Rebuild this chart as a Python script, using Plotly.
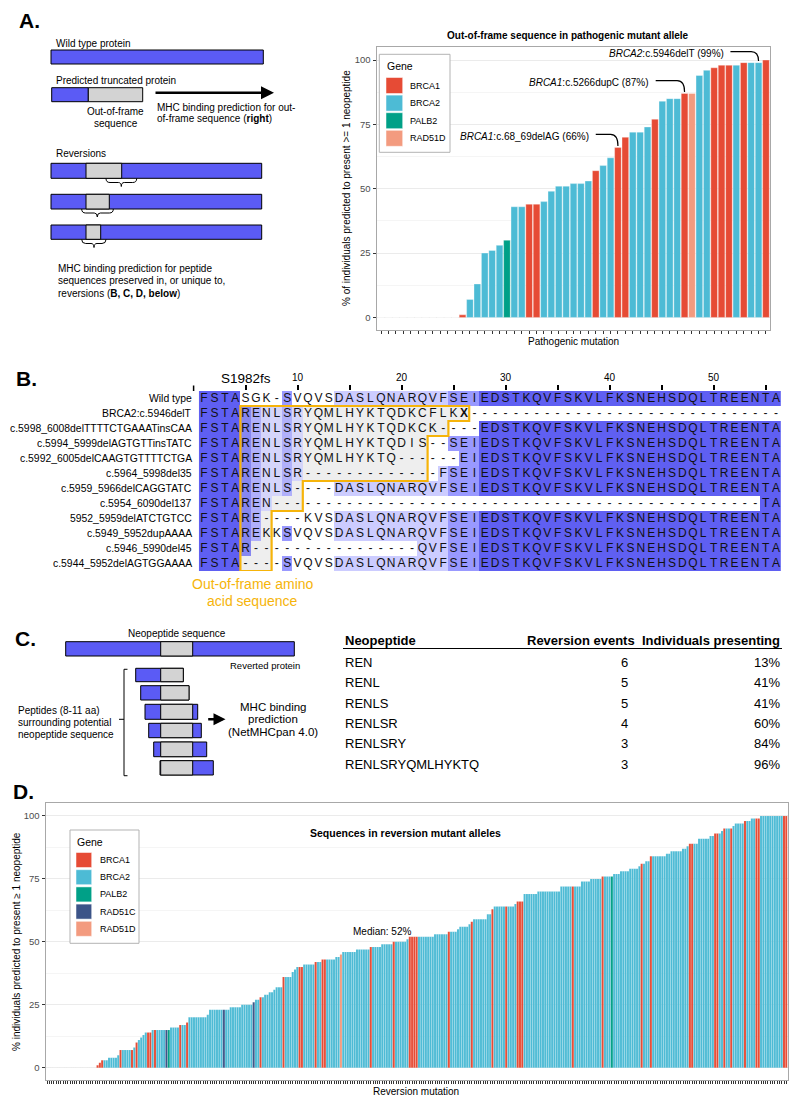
import numpy as np
import plotly.graph_objects as go

W, H = 800, 1106
FONT = "Liberation Sans, Arial, Helvetica, sans-serif"

gene_names = {"B1": "BRCA1", "B2": "BRCA2", "P": "PALB2", "C": "RAD51C", "D": "RAD51D"}
gene_colors = {"BRCA1": "#E64B35", "BRCA2": "#4DBBD5", "PALB2": "#00A087",
               "RAD51C": "#3C5488", "RAD51D": "#F39B7F"}

# ---------------- Panel A data: out-of-frame sequences ----------------
a_values = [0, 0, 0, 0, 0, 0, 0, 0, 0, 0, 0,
            1, 7, 13, 25, 26, 28, 30, 43, 43, 44,
            44, 45, 49, 51, 51, 52, 52, 53, 57, 59,
            62, 66, 70, 72, 72, 74, 77, 84, 85, 85,
            87, 87, 94, 96, 97, 98, 98, 98, 99, 99,
            99, 100]
a_genes = ["B2", "B2", "B2", "B2", "B2", "B2", "B2", "B2", "B2", "B2", "B2",
           "B1", "B2", "B2", "B2", "B2", "B2", "P", "B2", "B2", "B1",
           "B1", "B2", "B2", "B2", "B2", "B2", "B2", "B2", "B1", "B2",
           "B2", "B1", "B1", "B2", "B2", "B2", "B1", "B2", "B2", "B2",
           "B1", "D", "B2", "B2", "B1", "B1", "B1", "B2", "B1", "B2",
           "B2", "B1"]
a_callout_pos = [33, 42, 52]
a_callout_gene = ["BRCA1", "BRCA1", "BRCA2"]
a_callout_mut = ["c.68_69delAG", "c.5266dupC", "c.5946delT"]
a_legend = ["BRCA1", "BRCA2", "PALB2", "RAD51D"]

# ---------------- Panel B data: alignment ----------------
seq_names = ["Wild type", "BRCA2:c.5946delT", "c.5998_6008delTTTTCTGAAATinsCAA",
             "c.5994_5999delAGTGTTinsTATC", "c.5992_6005delCAAGTGTTTTCTGA",
             "c.5964_5998del35", "c.5959_5966delCAGGTATC", "c.5954_6090del137",
             "5952_5959delATCTGTCC", "c.5949_5952dupAAAA", "c.5946_5990del45",
             "c.5944_5952delAGTGGAAAA"]
TAIL = "EDSTKQVFSKVLFKSNEHSDQLTREENTA"
seqs = [
    "FSTASGK-SVQVSDASLQNARQVFSEI" + TAIL,
    "FSTARENLSRYQMLHYKTQDKCFLKX" + "-" * 30,
    "FSTARENLSRYQMLHYKTQDKCK" + "----" + TAIL,
    "FSTARENLSRYQMLHYKTQDIS" + "--" + "SEI" + TAIL,
    "FSTARENLSRYQMLHYKTQ" + "------" + "EI" + TAIL,
    "FSTARENLSR" + "-" * 13 + "FSEI" + TAIL,
    "FSTARENLS" + "----" + "DASLQNARQVFSEI" + TAIL,
    "FSTAREN" + "-" * 47 + "TA",
    "FSTARE" + "----" + "KVS" + "DASLQNARQVFSEI" + TAIL,
    "FSTAREKK" + "SVQVS" + "DASLQNARQVFSEI" + TAIL,
    "FSTAR" + "-" * 16 + "QVFSEI" + TAIL,
    "FSTA" + "----" + "SVQVS" + "DASLQNARQVFSEI" + TAIL,
]
oof_first = [None, 5, 5, 5, 5, 5, 5, 5, 5, 5, 5, 5]
oof_last = [None, 26, 24, 22, 22, 22, 10, 10, 7, 7, 7, 7]
ruler_ticks = [5, 10, 15, 20, 25, 30, 35, 40, 45, 50, 55]
ruler_labels = ["", "10", "", "20", "", "30", "", "40", "", "50", ""]

# ---------------- Panel C data: table ----------------
c_peptides = ["REN", "RENL", "RENLS", "RENLSR", "RENLSRY", "RENLSRYQMLHYKTQ"]
c_events = [6, 5, 5, 4, 3, 3]
c_presenting = [13, 41, 41, 60, 84, 96]

# ---------------- Panel D data: reversion sequences (runs of equal bars) ----------------
d_run_counts = [22, 1, 1, 1, 2, 4, 1, 1, 4, 1,
                1, 1, 1, 1, 1, 1, 2, 1, 1, 4,
                1, 1, 4, 1, 2, 1, 8, 1, 6, 1,
                2, 5, 5, 1, 2, 1, 1, 2, 2, 1,
                3, 1, 3, 1, 1, 1, 2, 5, 1, 2,
                2, 4, 2, 1, 6, 6, 1, 4, 5, 1,
                5, 1, 4, 7, 6, 1, 3, 1, 4, 1,
                1, 6, 2, 1, 5, 1, 3, 1, 3, 6,
                10, 5, 1, 3, 4, 5, 1, 3, 1, 3,
                4, 4, 1, 1, 1, 2, 1, 6, 2, 5,
                2, 1, 2, 2, 5, 2, 2, 1, 1, 1,
                2, 1, 1, 4, 1, 2, 2, 2, 10, 2]
d_run_values = [0, 1, 2, 3, 3, 4, 5, 7, 7, 7,
                8, 10, 11, 12, 13, 14, 14, 15, 15, 15,
                15, 15, 16, 17, 17, 18, 20, 21, 23, 23,
                23, 24, 25, 26, 27, 28, 28, 29, 30, 31,
                32, 36, 36, 38, 39, 40, 40, 41, 42, 42,
                43, 43, 44, 45, 46, 47, 48, 48, 49, 50,
                50, 51, 52, 52, 53, 54, 54, 55, 56, 57,
                58, 59, 61, 63, 64, 64, 64, 65, 66, 69,
                70, 72, 72, 72, 74, 75, 76, 76, 76, 77,
                78, 79, 80, 81, 81, 82, 84, 84, 85, 86,
                87, 88, 89, 89, 91, 92, 93, 93, 94, 95,
                95, 95, 96, 97, 98, 98, 99, 99, 100, 100]
d_run_genes = ["B2", "B1", "B1", "B1", "B2", "B2", "B2", "B1", "B2", "B1",
               "B2", "B1", "B2", "B2", "B2", "B2", "B1", "B2", "B1", "B2",
               "C", "P", "B2", "B1", "B2", "B1", "B2", "B2", "B2", "C",
               "B2", "B2", "B2", "C", "B2", "B1", "B2", "B2", "B2", "B2",
               "B2", "B1", "B2", "B2", "B2", "B2", "B1", "B2", "B1", "B2",
               "B1", "B2", "B2", "D", "B2", "B2", "B1", "B2", "B2", "B1",
               "B2", "B2", "B1", "B2", "B2", "B1", "B2", "B2", "B2", "B2",
               "B1", "B2", "B2", "B1", "B2", "B1", "B2", "B2", "B1", "B2",
               "B2", "B2", "B1", "B2", "B2", "B2", "B1", "B2", "P", "B2",
               "B2", "B2", "B2", "B1", "B2", "B2", "B1", "B2", "B2", "B2",
               "B2", "B2", "B1", "B2", "B2", "B2", "B1", "B2", "B2", "B1",
               "B2", "B1", "B2", "B2", "B1", "B2", "B2", "B1", "B2", "B1"]
d_legend = ["BRCA1", "BRCA2", "PALB2", "RAD51C", "RAD51D"]
d_median = 52

# =====================================================================
shapes, annots = [], []


def X(x):
    return x / W


def Y(y):
    return 1 - y / H


def P(x, y):
    return f"{X(x):.5f},{Y(y):.5f}"


def text(x, y, s, size=10, xa="left", ya="middle", color="black", family=FONT, angle=0):
    annots.append(dict(xref="paper", yref="paper", x=X(x), y=Y(y), text=s, showarrow=False,
                       xanchor=xa, yanchor=ya, textangle=angle,
                       font=dict(size=size, color=color, family=family)))


def rect(x0, y0, x1, y1, fill, lc="black", lw=1.0):
    shapes.append(dict(type="rect", xref="paper", yref="paper", x0=X(x0), x1=X(x1),
                       y0=Y(y1), y1=Y(y0), fillcolor=fill, line=dict(color=lc, width=lw),
                       layer="above"))


def line(x0, y0, x1, y1, lc="black", lw=1.0):
    shapes.append(dict(type="line", xref="paper", yref="paper", x0=X(x0), x1=X(x1),
                       y0=Y(y0), y1=Y(y1), line=dict(color=lc, width=lw), layer="above"))


def path(d, lc="black", lw=1.0):
    shapes.append(dict(type="path", xref="paper", yref="paper", path=d,
                       line=dict(color=lc, width=lw), layer="above"))


def arrow(x0, y0, x1, y1, w=2.5):
    annots.append(dict(xref="paper", yref="paper", x=X(x1), y=Y(y1), axref="pixel",
                       ayref="pixel", ax=x0 - x1, ay=y0 - y1, text="", showarrow=True,
                       arrowhead=2, arrowsize=1.0, arrowwidth=w, arrowcolor="black"))


def brace(xa, xb, xm, y, lw=1.0):
    d = (f"M {P(xa, y - 4)} Q {P(xa, y)} {P(xa + 4, y)} L {P(xm - 3, y)} "
         f"Q {P(xm, y)} {P(xm, y + 4)} Q {P(xm, y)} {P(xm + 3, y)} L {P(xb - 4, y)} "
         f"Q {P(xb, y)} {P(xb, y - 4)}")
    path(d, lw=lw)


BLUE = "#5B5BF5"
GREY = "#D3D3D3"
fig = go.Figure()

# ---------------- Panel labels ----------------
for lab, (lx, ly) in zip(["A.", "B.", "C.", "D."], [(17, 21), (14, 378), (13, 638.5), (11, 792)]):
    text(lx, ly, f"<b>{lab}</b>", size=21)

# ---------------- Panel A schematic ----------------
text(54, 43.5, "Wild type protein")
rect(51, 50, 263.3, 64, BLUE)
text(53.5, 80.5, "Predicted truncated protein")
rect(51.7, 87.7, 88.3, 101.7, BLUE)
rect(88.3, 87.7, 142.7, 101.7, GREY)
text(116, 111.5, "Out-of-frame", xa="center")
text(116, 123.3, "sequence", xa="center")
arrow(154, 92.7, 274, 92.7, w=2.6)
text(155, 107.3, "MHC binding prediction for out-")
text(155, 118.6, "of-frame sequence (<b>right</b>)")
text(54, 153.5, "Reversions")
for (y0, y1, gx, ba, bb, bm, by) in [(163.3, 178.3, 121.7, 106, 136.7, 121.3, 182.5),
                                     (194.3, 209, 109.3, 81.7, 113.3, 97.3, 213),
                                     (225, 239.3, 100.7, 81.7, 106, 94, 243.5)]:
    rect(51, y0, 261.7, y1, BLUE)
    rect(86, y0, gx, y1, GREY)
    brace(ba, bb, bm, by)
text(56, 268.5, "MHC binding prediction for peptide")
text(56, 281, "sequences preserved in, or unique to,")
text(56, 293.5, "reversions (<b>B, C, D, below</b>)")

# ---------------- Panel A chart ----------------
a_x = list(range(1, len(a_values) + 1))
fig.add_trace(go.Bar(x=a_x, y=a_values, width=0.9, xaxis="x", yaxis="y",
                     marker=dict(color=[gene_colors[gene_names[g]] for g in a_genes],
                                 line=dict(color="rgba(255,255,255,0.55)", width=0.6)),
                     showlegend=False, hoverinfo="skip"))
a_dx = [-3.6, -4.5, -4.4]
a_dy = [4.4, 4.3, 3.6]
for pos, gene, mut, dx, dy in zip(a_callout_pos, a_callout_gene, a_callout_mut, a_dx, a_dy):
    v = a_values[pos - 1]
    tx, ty = pos + dx, v + dy
    annots.append(dict(xref="x", yref="y", x=tx, y=ty, xanchor="right", yanchor="middle",
                       text=f"<i>{gene}</i>:{mut} ({v}%)", showarrow=False,
                       font=dict(size=10, family=FONT, color="black")))
    ly = ty + 0.7
    shapes.append(dict(type="path", xref="x", yref="y", layer="above",
                       path=f"M {tx + 0.6},{ly} L {pos - 1.0},{ly} Q {pos},{ly} {pos},{v + 0.6}",
                       line=dict(color="black", width=1.2)))
text(567.5, 35.5, "<b>Out-of-frame sequence in pathogenic mutant allele</b>", size=10, xa="center")
text(573, 341.5, "Pathogenic mutation", size=10, xa="center")
text(346.5, 188.5, "% of individuals predicted to present >= 1 neopeptide", size=10,
     xa="center", angle=-90)
rect(379.3, 54.3, 450, 152.3, "white", lc="#B3B3B3", lw=1)
text(384.5, 66, "Gene", size=10.5)
for i, g in enumerate(a_legend):
    yc = 85.5 + i * 17.6
    rect(386, yc - 8, 402.7, yc + 8, gene_colors[g], lc="white", lw=0.5)
    text(407.5, yc, g, size=9)

# ---------------- Panel B alignment ----------------
nrow, ncol = len(seqs), len(seqs[0])
cons_level = []
cons_res = []
for c in range(ncol):
    colres = [s[c] for s in seqs if s[c] != "-"]
    best = max(sorted(set(colres)), key=colres.count)
    frac = colres.count(best) / nrow
    lvl = 3 if frac > 0.8 else (2 if frac > 0.6 else (1 if frac > 0.4 else 0))
    cons_level.append(lvl)
    cons_res.append(best)
z = []
for r, s in enumerate(seqs):
    row = []
    for c in range(ncol):
        lvl = cons_level[c] if s[c] == cons_res[c] else 0
        inside = oof_first[r] is not None and oof_first[r] <= c + 1 <= oof_last[r]
        row.append(lvl + (4 if inside else 0))
    z.append(row)


def blend(hexc, f=0.72, base=(236, 236, 236)):
    rr, gg, bb = int(hexc[1:3], 16), int(hexc[3:5], 16), int(hexc[5:7], 16)
    return "rgb(%d,%d,%d)" % tuple(round(f * a + (1 - f) * b) for a, b in zip((rr, gg, bb), base))


lvl_cols = ["#FFFFFF", "#CCCCFF", "#9999FF", "#5F5FF2"]
cat_cols = lvl_cols + ["#EEEEEE", blend(lvl_cols[1]), blend(lvl_cols[2]), blend(lvl_cols[3])]
cs = []
for k, col in enumerate(cat_cols):
    cs.append([k / 8, col])
    cs.append([(k + 1) / 8, col])
cols = list(range(1, ncol + 1))
rows = list(range(nrow))
fig.add_trace(go.Heatmap(x=cols, y=rows, z=z, colorscale=cs, zmin=-0.5, zmax=7.5,
                         showscale=False, xaxis="x3", yaxis="y3", hoverinfo="skip"))
tx, ty, tt = [], [], []
for r, s in enumerate(seqs):
    for c, ch in enumerate(s):
        tx.append(c + 1)
        ty.append(r)
        tt.append("<b>X</b>" if ch == "X" else ch)
fig.add_trace(go.Scatter(x=tx, y=ty, text=tt, mode="text", xaxis="x3", yaxis="y3",
                         textfont=dict(family=FONT, size=12, color="#111111"),
                         showlegend=False, hoverinfo="skip", cliponaxis=False))
pts = [(oof_first[1] - 0.5, 0.5)]
for r in range(1, nrow):
    pts.append((oof_last[r] + 0.5, r - 0.5))
    pts.append((oof_last[r] + 0.5, r + 0.5))
pts.append((oof_first[1] - 0.5, nrow - 0.5))
pstr = "M " + " L ".join(f"{a},{b}" for a, b in pts) + " Z"
ORANGE = "#F6B40A"
shapes.append(dict(type="path", xref="x3", yref="y3", path=pstr, layer="above",
                   line=dict(color=ORANGE, width=2.2)))
B_X0, B_CW, B_Y0, B_RH = 198.8, 10.4, 391.0, 15.0
for r, name in enumerate(seq_names):
    text(193.8, B_Y0 + (r + 0.5) * B_RH, name, size=10.4, xa="right")
line(193.6, 385.5, 193.6, 391, lw=1.5)
text(245.6, 378.5, "S1982fs", size=13.5, xa="center")
text(253, 583.5, "Out-of-frame amino", size=14, xa="center", color=ORANGE)
text(253, 600.5, "acid sequence", size=14, xa="center", color=ORANGE)

# ---------------- Panel C schematic ----------------
text(176.7, 633.3, "Neopeptide sequence", size=10, xa="center")
rect(65.7, 641.7, 294.3, 656, BLUE)
rect(160.7, 641.7, 192.7, 656, GREY)
text(302, 665.7, "Reverted protein", size=9.5, xa="right")
for (bl, gr, br, y0, y1) in [(135.7, 183.3, None, 668.3, 681.7),
                             (140.7, 189.0, None, 685.7, 700.0),
                             (145.0, 192.7, 197.7, 704.3, 719.3),
                             (148.7, 192.7, 201.3, 723.3, 737.7),
                             (153.7, 192.7, 206.7, 742.0, 756.7),
                             (160.0, 192.7, 213.3, 760.7, 775.0)]:
    rect(bl, y0, br if br else gr, y1, BLUE)
    rect(160.7 if bl < 160.7 else bl, y0, gr, y1, GREY)
path(f"M {P(127.5, 669.3)} L {P(124, 669.3)} L {P(124, 775.7)} L {P(127.5, 775.7)}", lw=1.0)
line(119, 719.3, 124, 719.3, lw=1.0)
text(16, 710.7, "Peptides (8-11 aa)", size=10)
text(16, 722.3, "surrounding potential", size=10)
text(16, 734, "neopeptide sequence", size=10)
arrow(206.7, 719.3, 225.5, 719.3, w=2.4)
text(273.3, 707.3, "MHC binding", size=11.5, xa="center")
text(273.3, 719.3, "prediction", size=11.5, xa="center")
text(273.3, 731.6, "(NetMHCpan 4.0)", size=11.5, xa="center")

# ---------------- Panel C table ----------------
T_Y0, T_DY = 662.3, 20.35
text(343, 640.7, "<b>Neopeptide</b>", size=13)
text(637, 640.7, "<b>Reversion events</b>", size=13, xa="right")
text(782, 640.7, "<b>Individuals presenting</b>", size=13, xa="right")
line(343, 648.5, 782, 648.5, lc="black", lw=1.2)
for k, (pep, ev, pr) in enumerate(zip(c_peptides, c_events, c_presenting)):
    yy = T_Y0 + k * T_DY
    text(343, yy, pep, size=13)
    text(630, yy, str(ev), size=13, xa="right")
    text(782, yy, f"{pr}%", size=13, xa="right")

# ---------------- Panel D chart ----------------
d_values, d_genes = [], []
for cnt, val, g in zip(d_run_counts, d_run_values, d_run_genes):
    d_values.extend([val] * cnt)
    d_genes.extend([gene_names[g]] * cnt)
nD = len(d_values)
d_x = list(range(1, nD + 1))
fig.add_trace(go.Bar(x=d_x, y=d_values, width=0.9, xaxis="x2", yaxis="y2",
                     marker=dict(color=[gene_colors[g] for g in d_genes],
                                 line=dict(color="rgba(255,255,255,0.35)", width=0.25)),
                     showlegend=False, hoverinfo="skip"))
med_x = next(i + 1 for i, v in enumerate(d_values) if v >= d_median)
annots.append(dict(xref="x2", yref="y2", x=med_x + 1.5, y=d_median + 2.3, xanchor="right",
                   yanchor="middle", text=f"Median: {d_median}%", showarrow=False,
                   font=dict(size=10, family=FONT, color="black")))
text(406, 832.7, "<b>Sequences in reversion mutant alleles</b>", size=10.5, xa="center")
text(416, 1091, "Reversion mutation", size=10, xa="center")
text(16.5, 941.5, "% individuals predicted to present \u2265 1 neopeptide", size=10,
     xa="center", angle=-90)
rect(70, 830, 139, 943.3, "white", lc="#B3B3B3", lw=1)
text(75, 842, "Gene", size=10.5)
for i, g in enumerate(d_legend):
    yc = 860 + i * 17.2
    rect(76, yc - 7.5, 91.7, yc + 7.5, gene_colors[g], lc="white", lw=0.5)
    text(97.5, yc, g, size=9)

# ---------------- layout ----------------
ax_common = dict(showticklabels=False, ticks="outside", ticklen=3, tickwidth=0.7,
                 tickcolor="#333333", showgrid=False, zeroline=False, showline=True,
                 mirror=True, linecolor="#A8A8A8", linewidth=1.3, fixedrange=True)
ay_common = dict(range=[-5, 105], tickvals=[0, 25, 50, 75, 100], ticks="outside", ticklen=3,
                 tickwidth=0.8, tickcolor="#333333",
                 tickfont=dict(size=9.5, color="#4D4D4D", family=FONT),
                 showgrid=True, gridcolor="#EBEBEB", gridwidth=1,
                 minor=dict(tickvals=[12.5, 37.5, 62.5, 87.5], showgrid=True,
                            gridcolor="#F5F5F5", gridwidth=0.7, ticks=""),
                 zeroline=False, showline=True, mirror=True, linecolor="#A8A8A8",
                 linewidth=1.3, fixedrange=True)

fig.update_layout(
    width=W, height=H, margin=dict(l=0, r=0, t=0, b=0),
    paper_bgcolor="white", plot_bgcolor="rgba(0,0,0,0)",
    font=dict(family=FONT, size=10, color="black"),
    bargap=0.1, showlegend=False,
    xaxis=dict(domain=[376.7 / W, 770.4 / W], range=[0.4, len(a_values) + 0.6],
               tickvals=a_x, anchor="y", **ax_common),
    yaxis=dict(domain=[1 - 330.3 / H, 1 - 47.2 / H], anchor="x", **ay_common),
    xaxis2=dict(domain=[45.7 / W, 787.7 / W], range=[0.4, nD + 0.6],
                tickvals=d_x, anchor="y2", **ax_common),
    yaxis2=dict(domain=[1 - 1080.3 / H, 1 - 803.4 / H], anchor="x2", **ay_common),
    xaxis3=dict(domain=[B_X0 / W, (B_X0 + ncol * B_CW) / W], range=[0.5, ncol + 0.5],
                anchor="y3", side="top", tickvals=ruler_ticks, ticktext=ruler_labels,
                ticks="outside", ticklen=5, tickwidth=1.5, tickcolor="black",
                tickfont=dict(size=10, family=FONT, color="black"),
                showgrid=False, zeroline=False, showline=False, fixedrange=True,
                automargin=False),
    yaxis3=dict(domain=[1 - (B_Y0 + nrow * B_RH) / H, 1 - B_Y0 / H], range=[nrow - 0.5, -0.5],
                anchor="x3", visible=False, fixedrange=True),
    shapes=shapes, annotations=annots,
)

fig.write_html("out.html", config={"displayModeBar": False},
               post_script="document.body.style.margin='0';document.body.style.padding='0';"
                           "document.body.style.overflow='hidden';")
